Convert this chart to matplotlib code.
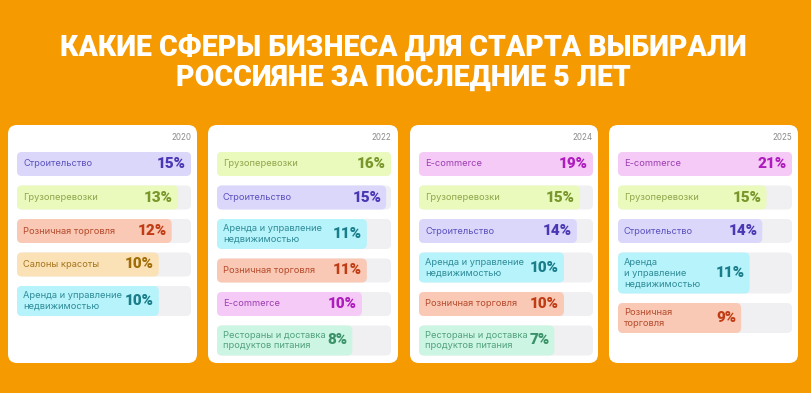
import matplotlib
matplotlib.use("Agg")
import matplotlib.pyplot as plt
from matplotlib.patches import FancyBboxPatch

# data, card by card
years = ["2020", "2022", "2024", "2025"]

labels_2020 = ["Строительство", "Грузоперевозки", "Розничная торговля",
               "Салоны красоты", "Аренда и управление\nнедвижимостью"]
values_2020 = [15, 13, 12, 10, 10]

labels_2022 = ["Грузоперевозки", "Строительство", "Аренда и управление\nнедвижимостью",
               "Розничная торговля", "E-commerce", "Рестораны и доставка\nпродуктов питания"]
values_2022 = [16, 15, 11, 11, 10, 8]

labels_2024 = ["E-commerce", "Грузоперевозки", "Строительство",
               "Аренда и управление\nнедвижимостью", "Розничная торговля",
               "Рестораны и доставка\nпродуктов питания"]
values_2024 = [19, 15, 14, 10, 10, 7]

labels_2025 = ["E-commerce", "Грузоперевозки", "Строительство",
               "Аренда\nи управление\nнедвижимостью", "Розничная\nторговля"]
values_2025 = [21, 15, 14, 11, 9]

all_labels = [labels_2020, labels_2022, labels_2024, labels_2025]
all_values = [values_2020, values_2022, values_2024, values_2025]

# where each card's value axis starts (bars are not drawn from zero in the original)
scale_start = [-12, -20, -35, -20]

# (bar fill, label colour, value colour) per sector
sector_colors = {
    "Строительство": ("#DAD7FB", "#5D51BE", "#4B37B3"),
    "Грузоперевозки": ("#EAF9BC", "#8EA64A", "#7A972C"),
    "Розничная торговля": ("#F9C9B6", "#B64A2C", "#C03C14"),
    "Салоны красоты": ("#FBE2B6", "#A4741C", "#A06E08"),
    "Аренда и управление недвижимостью": ("#B6F3FA", "#2F8C99", "#1A7D8A"),
    "E-commerce": ("#F6CAF7", "#9B3DB1", "#AE1CBE"),
    "Рестораны и доставка продуктов питания": ("#CCF5E3", "#52A27D", "#3A9268"),
}

BG = "#F59A00"
TRACK = "#F0F0F3"
W, H = 812, 393

card_x = [(8, 197), (208, 398), (410, 598), (609, 798)]
card_top, card_bottom = 125, 363
row_top = 152
row_gap = 9.5
row_h = {1: 24, 2: 30, 3: 41}
PT = 0.72  # points per pixel at dpi 100

fig = plt.figure(figsize=(W / 100, H / 100), dpi=100, facecolor=BG)

bg = fig.add_axes([0, 0, 1, 1], zorder=0)
bg.set_xlim(0, W)
bg.set_ylim(H, 0)
bg.axis("off")
for x0, x1 in card_x:
    bg.add_patch(FancyBboxPatch((x0, card_top), x1 - x0, card_bottom - card_top,
                                boxstyle="round,pad=0,rounding_size=9",
                                fc="white", ec="none"))

t1 = fig.text(403 / W, 1 - 48 / H, "КАКИЕ СФЕРЫ БИЗНЕСА ДЛЯ СТАРТА ВЫБИРАЛИ",
              ha="center", va="center", color="white", fontsize=22,
              fontweight="heavy", family="Roboto")
t2 = fig.text(403 / W, 1 - 78 / H, "РОССИЯНЕ ЗА ПОСЛЕДНИЕ 5 ЛЕТ",
              ha="center", va="center", color="white", fontsize=22,
              fontweight="heavy", family="Roboto")
# shrink the title so the first line is about 686 px wide, like the original
renderer = fig.canvas.get_renderer()
w1 = t1.get_window_extent(renderer).width
size = min(22, 22 * 686 / w1)
t1.set_fontsize(size)
t2.set_fontsize(size)


def round_bars(ax, bars, radius_px, sx):
    for b in bars:
        x, y = b.get_x(), b.get_y()
        w, h = b.get_width(), b.get_height()
        p = FancyBboxPatch((x, y), w, h,
                           boxstyle="round,pad=0,rounding_size=%f" % (radius_px * sx),
                           mutation_aspect=1 / sx,
                           fc=b.get_facecolor(), ec="none", zorder=b.get_zorder())
        b.remove()
        ax.add_patch(p)


for i in range(len(years)):
    labels = all_labels[i]
    values = all_values[i]
    base = scale_start[i]
    vmax = max(values)
    track_left = card_x[i][0] + 9
    track_w = 174
    ax = fig.add_axes([track_left / W, 0, track_w / W, 1], zorder=1)
    ax.set_xlim(base, vmax)
    ax.set_ylim(H, 0)
    ax.axis("off")
    ax.patch.set_alpha(0)
    sx = (vmax - base) / track_w

    centers, heights = [], []
    y = row_top
    for lab in labels:
        h = row_h[lab.count("\n") + 1]
        centers.append(y + h / 2)
        heights.append(h)
        y += h + row_gap

    keys = [lab.replace("\n", " ") for lab in labels]
    fills = [sector_colors[k][0] for k in keys]

    track = ax.barh(centers, [vmax - base] * len(values), left=base,
                    height=heights, color=TRACK, zorder=1)
    bars = ax.barh(centers, [v - base for v in values], left=base,
                   height=heights, color=fills, zorder=2)
    round_bars(ax, track, 5, sx)
    round_bars(ax, bars, 5, sx)

    for lab, k, v, c in zip(labels, keys, values, centers):
        ax.annotate(lab, xy=(base, c), xytext=(6 * PT, 0), textcoords="offset points",
                    ha="left", va="center", fontsize=6.7, family="Inter",
                    color=sector_colors[k][1], linespacing=1.25, zorder=3)
        ax.annotate("%d%%" % v, xy=(v, c), xytext=(-5 * PT, 0), textcoords="offset points",
                    ha="right", va="center", fontsize=11, family="Roboto",
                    fontweight="heavy", color=sector_colors[k][2], zorder=3)

    ax.text(vmax, 137, years[i], ha="right", va="center", fontsize=5.8,
            family="Inter", color="#8C8C8C")

fig.savefig("out.png", dpi=100, facecolor=BG)
